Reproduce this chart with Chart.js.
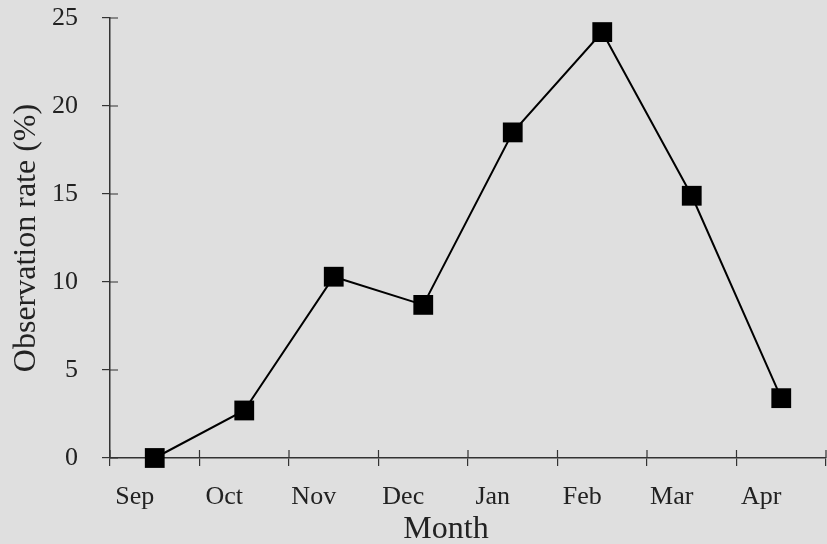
<!DOCTYPE html>
<html>
<head>
<meta charset="utf-8">
<script src="https://cdn.jsdelivr.net/npm/chart.js@4"></script>
<style>
  html, body { margin: 0; padding: 0; background: #dfdfdf; }
  #wrap { width: 827px; height: 544px; }
</style>
</head>
<body>
<div id="wrap"><canvas id="obsChart"></canvas></div>
<script>
const months = ['Sep', 'Oct', 'Nov', 'Dec', 'Jan', 'Feb', 'Mar', 'Apr'];
const obsRate = [0, 2.7, 10.3, 8.7, 18.5, 24.2, 14.9, 3.4];
const yTicks = [0, 5, 10, 15, 20, 25];
const xTitle = 'Month';

const axisColor = '#333';
const serif = '"Liberation Serif", "Times New Roman", serif';

// ticks in the picture cross the axis, chart.js only draws the outer half
// the x title also sits a bit left of centre, so it is drawn here
const axisExtras = {
  id: 'axisExtras',
  afterDraw: (chart) => {
    const { ctx, scales: { x, y } } = chart;
    ctx.save();
    ctx.strokeStyle = axisColor;
    ctx.lineWidth = 1.2;
    ctx.beginPath();
    yTicks.forEach(v => {
      const py = y.getPixelForValue(v);
      ctx.moveTo(x.left, py);
      ctx.lineTo(x.left + 8, py);
    });
    for (let i = 0; i <= months.length; i++) {
      const px = x.getPixelForValue(i - 0.5);
      ctx.moveTo(px, y.bottom);
      ctx.lineTo(px, y.bottom - 8);
    }
    ctx.stroke();

    ctx.fillStyle = '#222';
    ctx.font = '32px ' + serif;
    ctx.textAlign = 'center';
    ctx.textBaseline = 'middle';
    ctx.fillText(xTitle, (x.left + x.right) / 2 - 22, y.bottom + 72);
    ctx.restore();
  }
};

new Chart(document.getElementById('obsChart'), {
  type: 'line',
  data: {
    labels: months,
    datasets: [{
      data: obsRate,
      borderColor: '#000',
      borderWidth: 2,
      pointStyle: 'rect',
      pointRadius: 14,
      pointBackgroundColor: '#000',
      pointBorderColor: '#000',
      pointBorderWidth: 0,
      tension: 0,
      fill: false,
      clip: false,
    }]
  },
  options: {
    responsive: true,
    maintainAspectRatio: false,
    animation: false,
    layout: { autoPadding: false, padding: { top: 18, right: 1, left: 11, bottom: 0 } },
    plugins: {
      legend: { display: false },
      tooltip: { enabled: false },
    },
    scales: {
      x: {
        offset: true,
        grid: {
          offset: true,
          drawOnChartArea: false,
          drawTicks: true,
          tickLength: 8,
          color: axisColor,
          lineWidth: 1.2,
        },
        border: { color: axisColor, width: 1.5 },
        ticks: {
          color: '#222',
          font: { family: serif, size: 26 },
          padding: 16,
          labelOffset: -20,
          maxRotation: 0,
        },
        afterFit: (s) => { s.height = 86; s.paddingLeft = 0; s.paddingRight = 0; },
      },
      y: {
        min: 0,
        max: 25,
        grid: {
          drawOnChartArea: false,
          drawTicks: true,
          tickLength: 8,
          color: axisColor,
          lineWidth: 1.2,
        },
        border: { color: axisColor, width: 1.5 },
        ticks: {
          stepSize: 5,
          color: '#222',
          font: { family: serif, size: 26 },
          padding: 24,
        },
        afterBuildTicks: (scale) => { scale.ticks = yTicks.map(v => ({ value: v })); },
        afterFit: (s) => { s.width = 99; s.paddingTop = 0; s.paddingBottom = 0; },
        title: {
          display: true,
          text: 'Observation rate (%)',
          color: '#222',
          font: { family: serif, size: 32, lineHeight: 1 },
          padding: { top: 0, bottom: 12 },
        }
      }
    }
  },
  plugins: [axisExtras],
});
</script>
</body>
</html>
